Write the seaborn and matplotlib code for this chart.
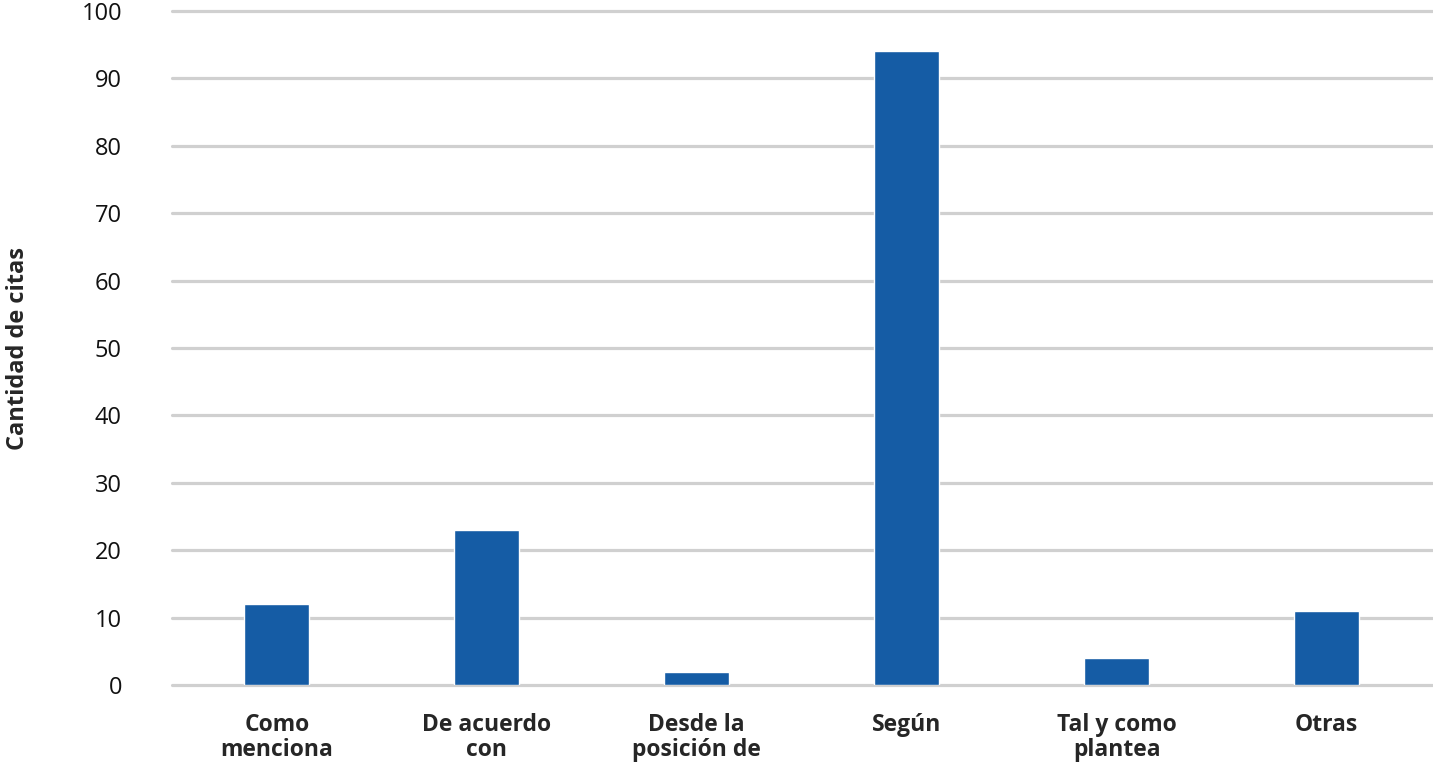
import pandas as pd
import matplotlib
matplotlib.use("Agg")
import matplotlib.pyplot as plt
import seaborn as sns

# Data
categories = ["Como\nmenciona", "De acuerdo\ncon", "Desde la\nposición de", "Según", "Tal y como\nplantea", "Otras"]
citas = [12, 23, 2, 94, 4, 11]

df = pd.DataFrame({"Expresión": categories, "Citas": citas})

sns.set_theme(style="white")
plt.rcParams["font.family"] = ["Open Sans", "DejaVu Sans"]

fig = plt.figure(figsize=(14.33, 7.83), dpi=100)
ax = fig.add_axes([0.12, 0.125, 0.879, 0.861])

sns.barplot(data=df, x="Expresión", y="Citas", color="#155ca5", saturation=1,
            width=0.31, ax=ax, zorder=3)

ax.set_xlim(-0.5, 5.5)
ax.set_ylim(0, 100)
ax.set_yticks(range(0, 101, 10))
ax.yaxis.grid(True, color="#d0d0d0", linewidth=2.3, zorder=0)
for gl in ax.get_ygridlines():
    gl.set_clip_on(False)
ax.set_axisbelow(True)
for s in ax.spines.values():
    s.set_visible(False)

ax.tick_params(axis="y", length=0, pad=36, labelsize=17, labelcolor="#111111")
ax.tick_params(axis="x", length=0, pad=20, labelsize=16.5)
for lbl in ax.get_xticklabels():
    lbl.set_fontweight("bold")
    lbl.set_linespacing(1.05)

ax.set_xlabel("")
ax.set_ylabel("Cantidad de citas", fontsize=17, fontweight="bold")
ax.yaxis.set_label_coords(-0.113, 0.5)

fig.savefig("out.png", dpi=100)
